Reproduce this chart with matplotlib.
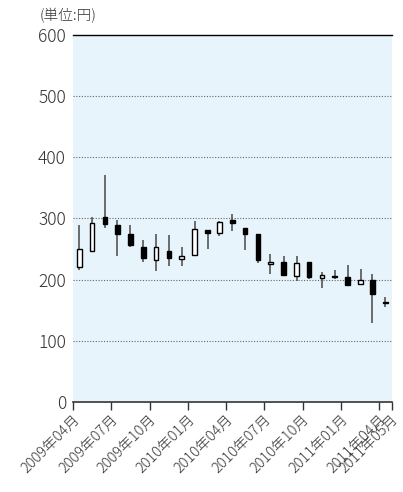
import matplotlib
matplotlib.use("Agg")
import matplotlib.pyplot as plt
import matplotlib.dates as mdates
import datetime as dt

plt.rcParams['font.family'] = ['Noto Sans CJK JP', 'DejaVu Sans']

# monthly prices, 2009-04 .. 2011-04
months = ["2009-04", "2009-05", "2009-06", "2009-07", "2009-08", "2009-09",
          "2009-10", "2009-11", "2009-12", "2010-01", "2010-02", "2010-03",
          "2010-04", "2010-05", "2010-06", "2010-07", "2010-08", "2010-09",
          "2010-10", "2010-11", "2010-12", "2011-01", "2011-02", "2011-03",
          "2011-04"]
opens = [220, 246, 303, 289, 274, 254, 232, 247, 233, 240, 281, 276, 298,
         284, 274, 225, 228, 206, 228, 203, 206, 204, 193, 199, 163]
highs = [289, 302, 371, 298, 289, 265, 275, 273, 254, 296, 281, 296, 307,
         285, 275, 242, 239, 239, 229, 212, 216, 224, 217, 209, 172]
lows = [216, 245, 285, 239, 254, 228, 214, 223, 222, 238, 250, 272, 280,
        248, 227, 210, 207, 198, 201, 187, 201, 192, 191, 129, 156]
closes = [250, 293, 291, 275, 257, 236, 253, 236, 239, 282, 277, 295, 292,
          274, 232, 229, 208, 227, 205, 208, 204, 192, 199, 177, 162]

tick_labels = ["2009年04月", "2009年07月", "2009年10月", "2010年01月",
               "2010年04月", "2010年07月", "2010年10月", "2011年01月",
               "2011年04月", "2011年05月"]
yticks = [0, 100, 200, 300, 400, 500, 600]

fig = plt.figure(figsize=(4.03, 4.92), dpi=100)
ax = fig.add_axes([0.181, 0.183, 0.791, 0.746])
ax.set_facecolor('#e8f4fc')

x = [mdates.date2num(dt.datetime.strptime(m + "-16", "%Y-%m-%d")) for m in months]
body_w = 11

for xi, o, h, l, c in zip(x, opens, highs, lows, closes):
    ax.vlines(xi, l, h, color='#555555', linewidth=1.2, zorder=2)
    up = c >= o
    bottom = min(o, c)
    height = max(abs(c - o), 1.2)
    ax.bar(xi, height, bottom=bottom, width=body_w,
           color='white' if up else 'black', edgecolor='black',
           linewidth=1.0, zorder=3)

x0 = mdates.date2num(dt.datetime(2009, 4, 1))
x1 = mdates.date2num(dt.datetime(2011, 5, 1))
ax.set_xlim(x0, x1)
ax.set_ylim(0, 600)

# gridlines
for v in yticks[1:-1]:
    ax.axhline(v, color='#666666', linestyle=(0, (1, 1.5)), linewidth=0.8, zorder=1)
ax.axhline(600, color='black', linewidth=1.0, clip_on=False, zorder=4)

tick_dates = [dt.datetime.strptime(t.replace("年", "-").replace("月", "") + "-01", "%Y-%m-%d")
              for t in tick_labels]
ax.set_xticks([mdates.date2num(d) for d in tick_dates])
ax.set_xticklabels(tick_labels, rotation=45, ha='right', rotation_mode='anchor',
                   fontsize=10.5, color='#333333', fontweight='light')
ax.set_yticks(yticks)
ax.set_yticklabels([str(v) for v in yticks], fontsize=12.5, color='#333333',
                   fontweight='light')

ax.tick_params(axis='x', direction='out', length=6, width=1, color='#333333', pad=2)
ax.tick_params(axis='y', length=0, pad=5)

for side in ['left', 'right', 'top']:
    ax.spines[side].set_visible(False)
ax.spines['bottom'].set_color('#333333')
ax.spines['bottom'].set_linewidth(1.2)

fig.text(0.099, 0.968, "(単位:円)", fontsize=10.5, color='#333333', va='center',
         fontweight='light')

fig.savefig("out.png", dpi=100)
